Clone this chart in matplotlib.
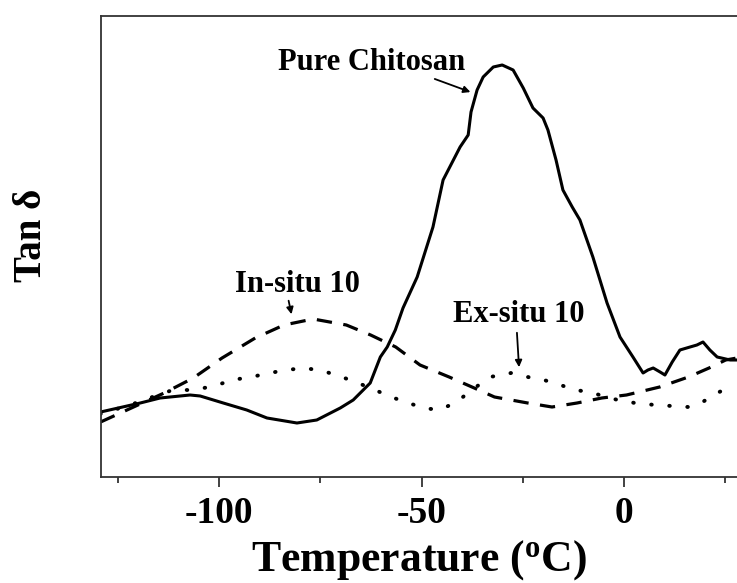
import matplotlib
matplotlib.use("Agg")
import matplotlib.pyplot as plt
from matplotlib.ticker import FixedLocator, NullFormatter, FixedFormatter

# ---- data ----
pure_T = [-129.3, -119.5, -114.6, -107.2, -104.7, -99.0, -93.2, -88.2, -80.8, -75.9,
          -70.1, -66.9, -62.7, -60.2, -58.5, -56.5, -54.6, -51.1, -47.2, -44.7,
          -40.5, -38.5, -37.8, -36.3, -34.8, -32.3, -30.1, -27.4, -24.9, -22.5,
          -20.0, -18.8, -16.8, -15.1, -12.8, -10.9, -7.7, -4.2, -1.0, 2.2,
          4.7, 5.9, 7.2, 8.9, 10.1, 11.9, 13.8, 16.3, 18.0, 19.5,
          21.2, 23.0, 26.2, 27.9]
pure_tan = [0.065, 0.074, 0.079, 0.082, 0.081, 0.074, 0.067, 0.059, 0.054, 0.057,
            0.069, 0.077, 0.094, 0.120, 0.130, 0.147, 0.169, 0.200, 0.250, 0.297,
            0.330, 0.342, 0.365, 0.387, 0.400, 0.410, 0.412, 0.407, 0.389, 0.369,
            0.359, 0.347, 0.317, 0.287, 0.270, 0.257, 0.220, 0.174, 0.140, 0.120,
            0.104, 0.107, 0.109, 0.105, 0.102, 0.115, 0.127, 0.130, 0.132, 0.135,
            0.127, 0.120, 0.117, 0.117]

insitu_T = [-129.3, -121.7, -113.6, -106.4, -99.3, -91.1, -84.0, -76.8, -68.6, -62.6,
            -56.4, -50.4, -43.2, -37.0, -32.0, -23.8, -17.8, -11.6, -5.5, 0.6,
            8.8, 15.9, 21.0, 25.1, 27.9]
insitu_tan = [0.055, 0.069, 0.084, 0.099, 0.119, 0.139, 0.152, 0.158, 0.152, 0.142,
              0.130, 0.112, 0.100, 0.089, 0.080, 0.074, 0.070, 0.074, 0.079, 0.082,
              0.090, 0.100, 0.109, 0.117, 0.119]

exsitu_T = [-129.4, -122.0, -116.5, -111.5, -106.4, -101.2, -96.8, -92.1, -87.5, -83.5,
            -78.9, -74.3, -69.7, -65.7, -61.5, -57.5, -53.3, -49.4, -45.8, -41.7,
            -37.6, -33.1, -27.9, -23.8, -19.8, -15.7, -12.1, -8.5, -4.4, -1.5,
            2.7, 7.7, 11.9, 15.9, 19.0, 23.0, 27.2]
exsitu_tan = [0.063, 0.072, 0.080, 0.087, 0.087, 0.091, 0.097, 0.100, 0.104, 0.107,
              0.109, 0.106, 0.100, 0.094, 0.087, 0.080, 0.074, 0.069, 0.067, 0.074,
              0.087, 0.100, 0.104, 0.100, 0.097, 0.092, 0.087, 0.085, 0.080, 0.077,
              0.074, 0.072, 0.071, 0.070, 0.074, 0.084, 0.092]

tick_values = [-100, -50, 0]
tick_labels = ["-100", "-50", "0"]
minor_values = [-125, -75, -25, 25]

# ---- figure ----
fig = plt.figure(figsize=(7.37, 5.83), dpi=100)
ax = fig.add_axes([101 / 737, 1 - 477 / 583, 1 - 101 / 737, (477 - 16) / 583])

serif = ["Liberation Serif", "DejaVu Serif"]

ax.plot(pure_T, pure_tan, color="black", lw=2.2, solid_joinstyle="round",
        solid_capstyle="round")
ax.plot(insitu_T, insitu_tan, color="black", lw=2.3, linestyle=(0, (4.8, 3.6)))
ax.plot(exsitu_T, exsitu_tan, color="black", lw=2.8, linestyle=(0, (0.15, 4.5)),
        dash_capstyle="round")

ax.set_xlim(-129.2, 27.9)
ax.set_ylim(0, 0.461)

for s in ["left", "bottom", "top"]:
    ax.spines[s].set_linewidth(1.3)
    ax.spines[s].set_color("#333333")
ax.spines["right"].set_visible(False)

ax.xaxis.set_major_locator(FixedLocator(tick_values))
ax.xaxis.set_major_formatter(FixedFormatter(tick_labels))
ax.xaxis.set_minor_locator(FixedLocator(minor_values))
ax.xaxis.set_minor_formatter(NullFormatter())
ax.tick_params(axis="x", which="major", direction="out", length=7, width=1.3,
               color="#333333", pad=7)
ax.tick_params(axis="x", which="minor", direction="out", length=4, width=1.3,
               color="#333333")
ax.tick_params(axis="y", left=False, labelleft=False)
for lab in ax.get_xticklabels():
    lab.set_fontfamily(serif)
    lab.set_fontweight("bold")
    lab.set_fontsize(27)

ax.set_xlabel("Temperature ($\\mathregular{^o}$C)", fontfamily=serif, fontweight="bold",
              fontsize=31.5, labelpad=5)
ax.set_ylabel("Tan δ", fontfamily=serif, fontweight="bold", fontsize=28)
ax.yaxis.set_label_coords(-0.080, 0.525)

arrow = dict(arrowstyle="-|>", color="black", lw=1.3, mutation_scale=10)
txt = dict(fontfamily=serif, fontweight="bold", fontsize=22, ha="center", va="baseline")

ax.text(-62.3, 0.407, "Pure Chitosan", **txt)
ax.annotate("", xy=(-37.3, 0.384), xytext=(-47.4, 0.399), arrowprops=arrow)

ax.text(-80.6, 0.185, "In-situ 10", **txt)
ax.annotate("", xy=(-82.0, 0.160), xytext=(-83.0, 0.179), arrowprops=arrow)

ax.text(-25.9, 0.155, "Ex-situ 10", **txt)
ax.annotate("", xy=(-25.9, 0.107), xytext=(-26.5, 0.147), arrowprops=arrow)

fig.savefig("out.png", dpi=100)
